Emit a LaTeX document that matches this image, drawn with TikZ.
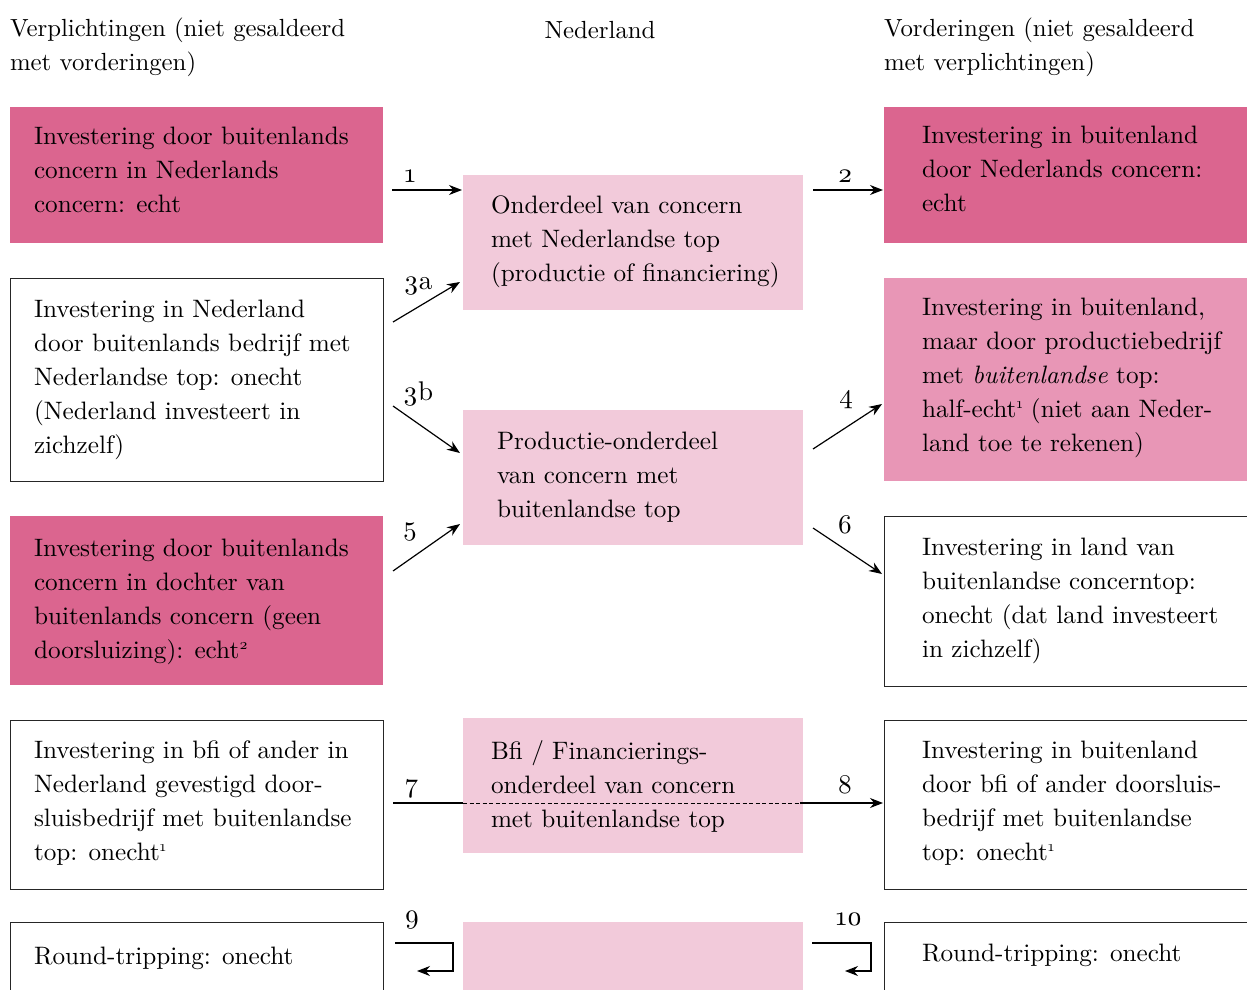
\documentclass[tikz,border=0pt]{standalone}
\usepackage{fontspec}
\setmainfont{lmroman10-regular.otf}[ItalicFont=lmroman10-italic.otf]
\usetikzlibrary{arrows.meta}
\definecolor{dpink}{RGB}{219,101,143}
\definecolor{mpink}{RGB}{232,150,182}
\definecolor{lpink}{RGB}{242,202,218}
\newcommand{\osn}[1]{\oldstylenums{#1}}
\newcommand{\fnm}[1]{\raisebox{9pt}{\fontsize{15}{15}\selectfont\oldstylenums{#1}}}
\begin{document}
\begin{tikzpicture}[x=1pt,y=-1pt,
  every node/.style={inner sep=0pt, outer sep=0pt},
  boxbase/.style={rectangle, anchor=north west},
  darkbox/.style={boxbase, fill=dpink},
  midbox/.style={boxbase, fill=mpink},
  lightbox/.style={boxbase, fill=lpink},
  linebox/.style={boxbase, draw=black!85, line width=0.9pt, fill=white},
  txt/.style={anchor=west, align=left, font=\fontsize{25.2}{34}\selectfont,
    execute at begin node=\strut, execute at end node=\strut},
  hdr/.style={anchor=west, align=left, font=\fontsize{24.8}{34}\selectfont,
    execute at begin node=\strut, execute at end node=\strut},
  lab/.style={anchor=base, font=\fontsize{27}{30}\selectfont},
  arr/.style={line width=1.2pt, -{Stealth[length=13pt,width=10pt]}},
  plainline/.style={line width=1.2pt},
  dashline/.style={line width=1pt, dash pattern=on 4pt off 2.5pt}
]
\useasboundingbox (0,0) rectangle (1247,990);
\clip (0,0) rectangle (1247,990);

% headers
\node[hdr] (hL) at (10,49) {Verplichtingen (niet gesaldeerd\\met vorderingen)};
\node[anchor=base, font=\fontsize{24.8}{34}\selectfont] (hM) at (600,39) {Nederland};
\node[hdr] (hR) at (884,49) {Vorderingen (niet gesaldeerd\\met verplichtingen)};

% left column
\node[darkbox, minimum width=373pt, minimum height=136pt] (L1) at (10,107) {};
\node[linebox, minimum width=373pt, minimum height=203pt] (L2) at (10,278) {};
\node[darkbox, minimum width=373pt, minimum height=169pt] (L3) at (10,516) {};
\node[linebox, minimum width=373pt, minimum height=169pt] (L4) at (10,720) {};
\node[linebox, minimum width=373pt, minimum height=90pt] (L5) at (10,922) {};

% middle column
\node[lightbox, minimum width=340pt, minimum height=135pt] (M1) at (463,175) {};
\node[lightbox, minimum width=340pt, minimum height=135pt] (M2) at (463,410) {};
\node[lightbox, minimum width=340pt, minimum height=135pt] (M3) at (463,718) {};
\node[lightbox, minimum width=340pt, minimum height=90pt] (M4) at (463,922) {};

% right column
\node[darkbox, minimum width=376pt, minimum height=136pt] (R1) at (884,107) {};
\node[midbox, minimum width=376pt, minimum height=203pt] (R2) at (884,278) {};
\node[linebox, minimum width=380pt, minimum height=170pt] (R3) at (884,516) {};
\node[linebox, minimum width=380pt, minimum height=169pt] (R4) at (884,720) {};
\node[linebox, minimum width=380pt, minimum height=90pt] (R5) at (884,922) {};

% texts
\node[txt] (tL1) at (34,175) {Investering door buitenlands\\concern in Nederlands\\concern: echt};
\node[txt] (tL2) at (34,382) {Investering in Nederland\\door buitenlands bedrijf met\\Nederlandse top: onecht\\(Nederland investeert in\\zichzelf)};
\node[txt] (tL3) at (34,603.5) {Investering door buitenlands\\concern in dochter van\\buitenlands concern (geen\\doorsluizing): echt\fnm{2}};
\node[txt] (tL4) at (34,806) {Investering in bfi of ander in\\Nederland gevestigd door-\\sluisbedrijf met buitenlandse\\top: onecht\fnm{1}};
\node[txt] (tL5) at (34,958) {Round-tripping: onecht};

\node[txt] (tM1) at (491,244) {Onderdeel van concern\\met Nederlandse top\\(productie of financiering)};
\node[txt] (tM2) at (497,480) {Productie-onderdeel\\van concern met\\buitenlandse top};
\node[txt] (tM3) at (491,789) {Bfi / Financierings-\\onderdeel van concern\\met buitenlandse top};

\node[txt] (tR1) at (922,174) {Investering in buitenland\\door Nederlands concern:\\echt};
\node[txt] (tR2) at (922,380) {Investering in buitenland,\\maar door productiebedrijf\\met \textit{buitenlandse} top:\\half-echt\fnm{1} (niet aan Neder-\\land toe te rekenen)};
\node[txt] (tR3) at (922,603) {Investering in land van\\buitenlandse concerntop:\\onecht (dat land investeert\\in zichzelf)};
\node[txt] (tR4) at (922,806) {Investering in buitenland\\door bfi of ander doorsluis-\\bedrijf met buitenlandse\\top: onecht\fnm{1}};
\node[txt] (tR5) at (922,955) {Round-tripping: onecht};

% arrows
\draw[arr] ([shift={(9,15)}]L1.east) -- ([shift={(-1,-52.5)}]M1.west);
\draw[arr] ([shift={(10,-52.5)}]M1.east) -- ([shift={(-1,15)}]R1.west);
\draw[arr] ([shift={(10,-57.5)}]L2.east) -- ([shift={(-3,39.5)}]M1.west);
\draw[arr] ([shift={(10,26.5)}]L2.east) -- ([shift={(-3,-24.5)}]M2.west);
\draw[arr] ([shift={(10,-28.5)}]M2.east) -- ([shift={(-2,24.5)}]R2.west);
\draw[arr] ([shift={(10,-29.5)}]L3.east) -- ([shift={(-3,46.5)}]M2.west);
\draw[arr] ([shift={(10,50.5)}]M2.east) -- ([shift={(-2,-27)}]R3.west);
% 7 / 8
\draw[plainline] ([shift={(10,-1.5)}]L4.east) -- ([shift={(0,17.5)}]M3.west);
\draw[dashline] ([shift={(0,17.5)}]M3.west) -- ([shift={(-3,17.5)}]M3.east);
\draw[arr] ([shift={(-3,17.5)}]M3.east) -- ([shift={(-1,-1.5)}]R4.west);
% 9 / 10
\draw[arr] ([shift={(12,-24)}]L5.east) -- ++(58,0) -- ++(0,28) -- ([shift={(34,4)}]L5.east);
\draw[arr] ([shift={(9,-24)}]M4.east) -- ++(59,0) -- ++(0,28) -- ([shift={(-39,4)}]R5.west);

% labels
\node[lab] (n1) at (410,182) {\osn{1}};
\node[lab] (n2) at (845,182) {\osn{2}};
\node[lab] (n3a) at (418,289) {\osn{3}a};
\node[lab] (n3b) at (418,400) {\osn{3}b};
\node[lab] (n4) at (846,403) {\osn{4}};
\node[lab] (n5) at (410,535) {\osn{5}};
\node[lab] (n6) at (845,533) {\osn{6}};
\node[lab] (n7) at (412,792) {\osn{7}};
\node[lab] (n8) at (845,793) {\osn{8}};
\node[lab] (n9) at (412,923) {\osn{9}};
\node[lab] (n10) at (849,925) {\osn{10}};
\end{tikzpicture}
\end{document}
